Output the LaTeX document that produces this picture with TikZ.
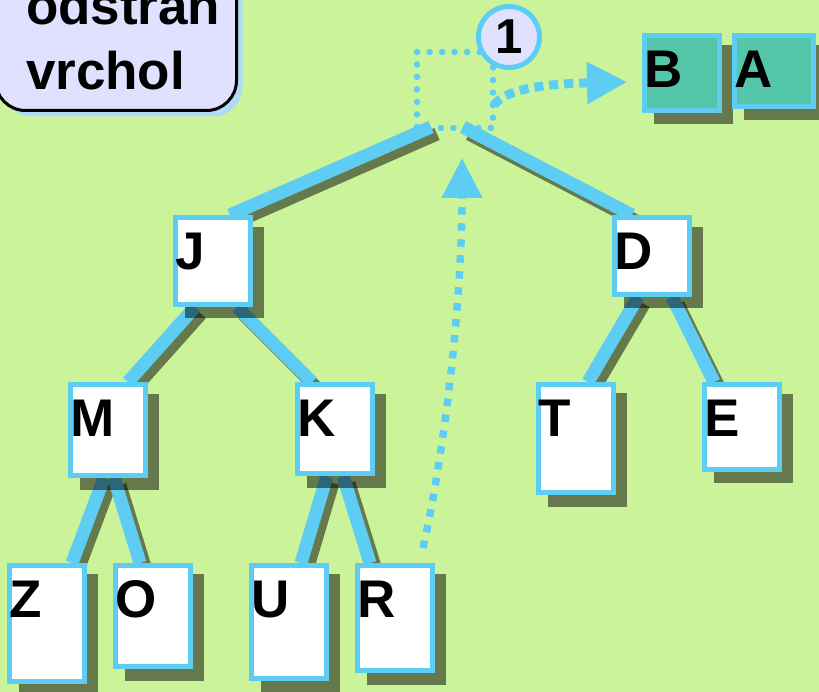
\documentclass[tikz,border=0pt]{standalone}
\usepackage{fontspec}
\setmainfont{Liberation Sans}
\usetikzlibrary{arrows.meta,shadows,backgrounds,calc}
\definecolor{bggreen}{RGB}{203,243,154}
\definecolor{linkblue}{RGB}{94,205,244}
\definecolor{lavender}{RGB}{224,224,255}
\definecolor{outteal}{RGB}{84,199,170}
\definecolor{haloblue}{RGB}{176,218,245}
\newcommand{\keyfont}{\fontsize{53}{60}\selectfont\bfseries}
\tikzset{
  keybox/.style={draw=linkblue, line width=5pt, fill=white, anchor=north west,
    inner xsep=0pt, inner ysep=14pt, text width=75pt, align=left,
    text height=38pt, text depth=#1, font=\keyfont,
    drop shadow={shadow scale=1.055, shadow xshift=11pt, shadow yshift=-11pt, fill=black, opacity=.5}},
  branch/.style={draw=linkblue, line width=13pt,
    preaction={draw=black, line width=13pt, draw opacity=.5, transform canvas={xshift=6pt, yshift=-7pt}}},
  dotline/.style={draw=linkblue, line width=6.5pt, line cap=round, dash pattern=on 0pt off 12.5pt},
}
\begin{document}
\begin{tikzpicture}[x=1pt, y=-1pt]
\useasboundingbox (0,0) rectangle (819,692);
\node[draw=black, line width=3pt, fill=lavender, rounded corners=30pt, anchor=south east,
  inner xsep=30.5pt, inner ysep=20.5pt, text width=180pt, align=left,
  font=\fontsize{53}{65}\selectfont\bfseries,
  drop shadow={shadow xshift=6pt, shadow yshift=-6pt, fill=haloblue, opacity=1}] (title) at (238,112) {odstraň\\vrchol};
\node[keybox=21pt] (J) at (173,215) {J};
\node[keybox=11pt] (D) at (612,215) {D};
\node[keybox=25pt] (M) at (68,382) {M};
\node[keybox=23pt] (K) at (295,382) {K};
\node[keybox=42pt] (T) at (536,382) {T};
\node[keybox=19pt] (E) at (702,382) {E};
\node[keybox=50pt] (Z) at (7,563) {Z};
\node[keybox=35pt] (O) at (113,563) {O};
\node[keybox=47pt] (U) at (249,563) {U};
\node[keybox=39pt] (R) at (355,563) {R};
\node[keybox=9pt, fill=outteal] (B) at (642,33) {B};
\node[keybox=5pt, fill=outteal, text width=79pt] (A) at (732,33) {A};
\node[circle, draw=linkblue, line width=5pt, fill=lavender, minimum size=61pt, inner sep=0pt,
  font=\fontsize{49}{55}\selectfont\bfseries] (one) at (509,37) {1};
\coordinate (rootL) at (431,127);
\coordinate (rootR) at (463,127);
\coordinate (pop) at (494,105);
\coordinate (up) at (462,158);
\begin{scope}[on background layer]
\fill[bggreen] (0,0) rectangle (819,692);
\draw[branch] (rootL) -- ([xshift=17pt]J.north);
\draw[branch] (rootR) -- ([xshift=-20pt]D.north);
\draw[branch] ([xshift=-18pt]J.south) -- ([xshift=20pt]M.north);
\draw[branch] ([xshift=24pt]J.south) -- ([xshift=-23pt]K.north);
\draw[branch] ([xshift=-4pt]M.south) -- ([xshift=25pt]Z.north);
\draw[branch] ([xshift=6pt]M.south) -- ([xshift=-13pt]O.north);
\draw[branch] ([xshift=-8pt]K.south) -- ([xshift=12pt]U.north);
\draw[branch] ([xshift=8pt]K.south) -- ([xshift=-25pt]R.north);
\draw[branch] ([xshift=-14pt]D.south) -- ([xshift=12pt]T.north);
\draw[branch] ([xshift=20pt]D.south) -- ([xshift=-28pt]E.north);
\end{scope}
\draw[dotline] (one.207) -- (417,52) |- (493,128) -- (one.241);
\draw[linkblue, line width=9pt, dash pattern=on 9pt off 6pt, -{Triangle[length=40pt, width=40pt]}]
  (pop) .. controls (505,90) and (540,84) .. ($(B.west)+(-15,9)$);
\draw[linkblue, line width=7.5pt, dash pattern=on 7.5pt off 8.5pt, -{Triangle[length=40pt, width=39pt]}]
  ($(R.north east)+(-12,-15)$) .. controls (445,450) and (462,300) .. (up);
\end{tikzpicture}
\end{document}
